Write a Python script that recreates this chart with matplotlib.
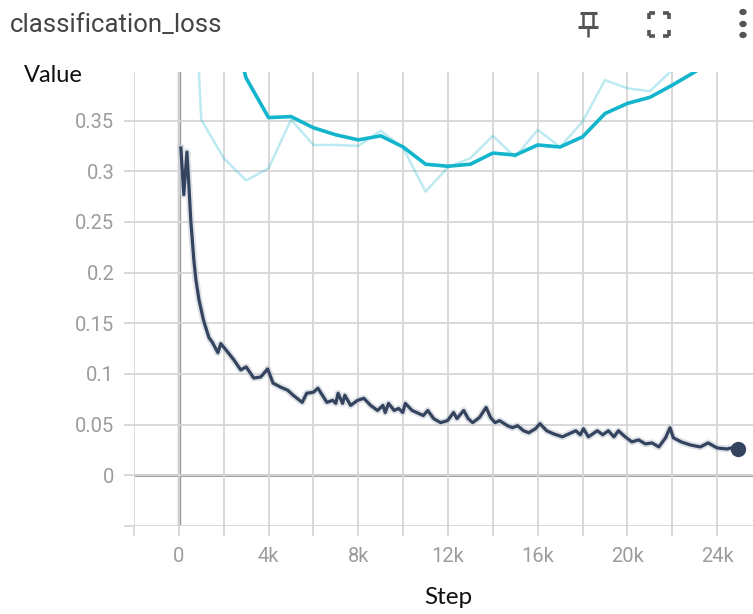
import matplotlib
matplotlib.use("Agg")
import matplotlib.pyplot as plt
from matplotlib.lines import Line2D
from matplotlib.patches import Circle
import numpy as np

# training loss (smoothed)
train_steps = [90, 220, 360, 450, 530, 670, 760, 900, 1100, 1340, 1500, 1740, 1870, 2200,
               2450, 2760, 3000, 3340, 3650, 3960, 4200, 4540, 4850, 5100, 5500, 5700, 6000,
               6200, 6400, 6600, 6860, 7000, 7100, 7300, 7400, 7660, 7970, 8250, 8550, 8860,
               9100, 9200, 9350, 9600, 9800, 9980, 10100, 10400, 10700, 10900, 11100, 11360,
               11670, 11980, 12250, 12400, 12700, 12900, 13100, 13400, 13700, 13900, 14100,
               14300, 14650, 14880, 15100, 15370, 15600, 15900, 16100, 16400, 16700, 17100,
               17300, 17700, 17900, 18040, 18260, 18660, 18900, 19150, 19400, 19600, 19900,
               20200, 20500, 20800, 21100, 21400, 21700, 21900, 22050, 22400, 22800, 23250,
               23600, 24000, 24450, 24800, 24950]
train_loss = [0.323, 0.277, 0.319, 0.285, 0.252, 0.212, 0.193, 0.173, 0.153, 0.136, 0.131,
              0.121, 0.130, 0.121, 0.114, 0.104, 0.107, 0.096, 0.097, 0.105, 0.091, 0.087,
              0.084, 0.079, 0.072, 0.081, 0.082, 0.086, 0.079, 0.072, 0.074, 0.071, 0.081,
              0.071, 0.079, 0.069, 0.074, 0.076, 0.069, 0.064, 0.069, 0.062, 0.071, 0.064,
              0.066, 0.062, 0.071, 0.064, 0.061, 0.059, 0.064, 0.056, 0.052, 0.054, 0.062,
              0.056, 0.064, 0.056, 0.052, 0.057, 0.067, 0.057, 0.052, 0.054, 0.049, 0.047,
              0.049, 0.044, 0.042, 0.046, 0.051, 0.044, 0.041, 0.038, 0.040, 0.044, 0.040,
              0.046, 0.038, 0.044, 0.040, 0.044, 0.038, 0.044, 0.038, 0.033, 0.035, 0.031,
              0.032, 0.028, 0.037, 0.047, 0.037, 0.033, 0.030, 0.028, 0.032, 0.027, 0.026,
              0.028, 0.026]

# eval loss, every 1k steps
eval_steps = [0, 1000, 2000, 3000, 4000, 5000, 6000, 7000, 8000, 9000, 10000, 11000, 12000,
              13000, 14000, 15000, 16000, 17000, 18000, 19000, 20000, 21000, 22000, 23000,
              24000, 25000]
eval_raw = [0.79, 0.351, 0.313, 0.291, 0.303, 0.351, 0.326, 0.326, 0.325, 0.340, 0.323,
            0.280, 0.304, 0.313, 0.335, 0.314, 0.341, 0.324, 0.349, 0.390, 0.382, 0.379,
            0.400, 0.415, 0.43, 0.44]
eval_smooth = [0.79, 0.595, 0.471, 0.392, 0.353, 0.354, 0.343, 0.336, 0.331, 0.335, 0.324,
               0.307, 0.305, 0.307, 0.318, 0.316, 0.326, 0.324, 0.334, 0.357, 0.367, 0.373,
               0.385, 0.398, 0.413, 0.425]

x_ticks = np.arange(-2000, 26000, 2000)
x_labels = ["", "0", "", "4k", "", "8k", "", "12k", "", "16k", "", "20k", "", "24k"]
y_ticks = [-0.05, 0, 0.05, 0.1, 0.15, 0.2, 0.25, 0.3, 0.35]
y_labels = ["", "0", "0.05", "0.1", "0.15", "0.2", "0.25", "0.3", "0.35"]

W, H = 753, 614
fig = plt.figure(figsize=(W / 100, H / 100), dpi=100)
ax = fig.add_axes([134 / W, 1 - 526 / H, (W - 134) / W, (526 - 72) / H])

grid_col = "#d6d6d6"
for s in ax.spines.values():
    s.set_visible(False)
ax.set_xlim(-2000, 25600)
ax.set_ylim(-0.05, 0.398)
ax.set_xticks(x_ticks, x_labels)
ax.set_yticks(y_ticks, y_labels)
ax.grid(True, color=grid_col, linewidth=1.3, zorder=0)
ax.tick_params(axis="both", color=grid_col, width=1.3, labelcolor="#9c9c9c",
               labelsize=14.5, length=7.2)
ax.tick_params(axis="y", pad=7)
ax.tick_params(axis="x", pad=8)
for lab in ax.get_xticklabels() + ax.get_yticklabels():
    lab.set_fontfamily("Roboto")

# zero lines
ax.axhline(0, color="#999999", linewidth=2, zorder=1)
ax.axvline(0, color="#999999", linewidth=2.4, zorder=1)

# eval curves
ax.plot(eval_steps, eval_raw, color="#12b5cb", alpha=0.28, linewidth=1.8, zorder=2)
ax.plot(eval_steps, eval_smooth, color="#12b5cb", linewidth=2.6, zorder=3)

# training curve with faint raw halo
ax.plot(train_steps, train_loss, color="#c9ced6", linewidth=5, alpha=0.6, zorder=3)
ax.plot(train_steps, train_loss, color="#34445f", linewidth=2.3, zorder=4)
ax.plot(train_steps[-1:], train_loss[-1:], "o", color="#34445f", markersize=10, zorder=5)

# texts
fig.text(10 / W, 1 - 25 / H, "classification_loss", fontsize=18.5, color="#444444",
         family="Roboto", va="center", ha="left")
fig.text(24 / W, 1 - 76 / H, "Value", fontsize=17, color="#111111", family="Lato",
         va="center", ha="left")
fig.text(448 / W, 1 - 598 / H, "Step", fontsize=17.5, color="#111111", family="Lato",
         va="center", ha="center")


# toolbar icons
def seg(x0, y0, x1, y1, lw=2.2):
    fig.add_artist(Line2D([x0 / W, x1 / W], [1 - y0 / H, 1 - y1 / H], color="#555555",
                          linewidth=lw, transform=fig.transFigure, solid_capstyle="butt"))


# pin
seg(580, 13, 597, 13)
seg(583, 13, 583, 27, 1.8)
seg(593, 13, 593, 27, 1.8)
seg(578, 27, 598, 27)
seg(588, 27, 588, 37, 1.8)
# fullscreen corners
for cx, cy, dx, dy in [(649, 13, 1, 1), (669, 13, -1, 1), (649, 36, 1, -1), (669, 36, -1, -1)]:
    seg(cx, cy, cx + 6 * dx, cy, 2.6)
    seg(cx, cy, cx, cy + 6 * dy, 2.6)
# menu dots
for cy in [12, 24, 35]:
    fig.add_artist(Circle((743 / W, 1 - cy / H), 3 / W, color="#555555",
                          transform=fig.transFigure))

fig.savefig("out.png", dpi=100)
